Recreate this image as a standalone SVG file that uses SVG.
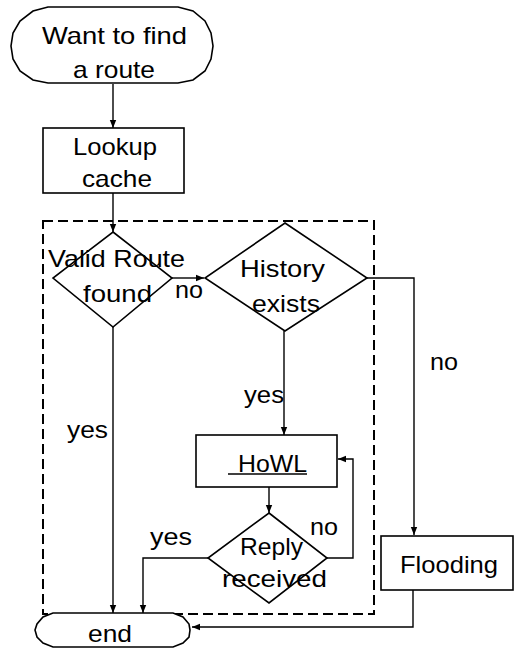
<svg xmlns="http://www.w3.org/2000/svg" width="514" height="652" viewBox="0 0 514 652">
  <defs>
    <marker id="arrow" viewBox="0 0 8 8" refX="8" refY="4" markerWidth="8" markerHeight="8" markerUnits="userSpaceOnUse" orient="auto">
      <path d="M0,0.8 L8,4 L0,7.2 Z" fill="#000"/>
    </marker>
    <style>
      .shape { fill: #fff; stroke: #000; stroke-width: 1.6; }
      .line { fill: none; stroke: #000; stroke-width: 1.4; }
      .arrow { marker-end: url(#arrow); }
      .frame { fill: none; stroke: #000; stroke-width: 2; stroke-dasharray: 10 5; }
      text { font-family: "Liberation Sans", Arial, sans-serif; font-size: 24px; fill: #000; text-anchor: middle; }
    </style>
  </defs>
  <rect width="514" height="652" fill="#fff"/>

  <!-- connectors -->
  <g id="connectors">
    <path class="line arrow" d="M113,84 V128"/>
    <path class="line arrow" d="M113,193 V232"/>
    <path class="line arrow" d="M172,278 H204"/>
    <path class="line arrow" d="M113,327 V613"/>
    <path class="line arrow" d="M284,331 V435"/>
    <path class="line arrow" d="M269,487 V513"/>
    <path class="line arrow" d="M327,558 H353 V459 H338"/>
    <path class="line arrow" d="M208,558 H143 V613"/>
    <path class="line arrow" d="M367,278 H414 V535"/>
    <path class="line arrow" d="M413,590 V627 H192"/>
    <text x="189" y="298" textLength="28" lengthAdjust="spacingAndGlyphs">no</text>
    <text x="264" y="403" textLength="40" lengthAdjust="spacingAndGlyphs">yes</text>
    <text x="87.5" y="438" textLength="41" lengthAdjust="spacingAndGlyphs">yes</text>
    <text x="171" y="545" textLength="42" lengthAdjust="spacingAndGlyphs">yes</text>
    <text x="324" y="535" textLength="28" lengthAdjust="spacingAndGlyphs">no</text>
    <text x="444" y="370" textLength="28" lengthAdjust="spacingAndGlyphs">no</text>
  </g>

  <!-- dashed frame around the route search -->
  <rect id="search-frame" class="frame" x="43" y="221" width="331" height="393"/>

  <g id="start">
    <path class="shape" d="M48,7 H178 L193,11 L205,21 L211,33 L213,46 L211,59 L205,71 L193,80 L178,83 H48 L33,80 L20,71 L13,59 L11,46 L13,33 L20,21 L33,11 Z"/>
    <text x="114.5" y="44" textLength="145" lengthAdjust="spacingAndGlyphs">Want to find</text>
    <text x="114" y="78" textLength="82" lengthAdjust="spacingAndGlyphs">a route</text>
  </g>

  <g id="lookup">
    <rect class="shape" x="43" y="128" width="141" height="65"/>
    <text x="115" y="155" textLength="84" lengthAdjust="spacingAndGlyphs">Lookup</text>
    <text x="117" y="187" textLength="70" lengthAdjust="spacingAndGlyphs">cache</text>
  </g>

  <g id="valid-route">
    <path class="shape" d="M113,232 L172,278 L113,327 L53,278 Z"/>
    <text x="116.5" y="267" textLength="137" lengthAdjust="spacingAndGlyphs">Valid Route</text>
    <text x="117.5" y="302" textLength="69" lengthAdjust="spacingAndGlyphs">found</text>
  </g>

  <g id="history">
    <path class="shape" d="M285,223 L367,278 L285,331 L205,278 Z"/>
    <text x="282.5" y="277" textLength="85" lengthAdjust="spacingAndGlyphs">History</text>
    <text x="286" y="312" textLength="68" lengthAdjust="spacingAndGlyphs">exists</text>
  </g>

  <g id="howl">
    <rect class="shape" x="196" y="435" width="141" height="52"/>
    <text x="272.5" y="472" textLength="69" lengthAdjust="spacingAndGlyphs">HoWL</text>
    <line x1="228" y1="474" x2="307" y2="474" stroke="#000" stroke-width="1.6"/>
  </g>

  <g id="reply">
    <path class="shape" d="M269,513 L327,558 L269,603 L208,558 Z"/>
    <text x="271.5" y="555" textLength="63" lengthAdjust="spacingAndGlyphs">Reply</text>
    <text x="274.5" y="587" textLength="105" lengthAdjust="spacingAndGlyphs">received</text>
  </g>

  <g id="flooding">
    <rect class="shape" x="381" y="536" width="132" height="54"/>
    <text x="449" y="573" textLength="98" lengthAdjust="spacingAndGlyphs">Flooding</text>
  </g>

  <g id="end">
    <path class="shape" d="M53,613 H173 L183,617 L189,624 L190,630 L189,637 L183,643 L173,647 H53 L43,643 L37,637 L35,630 L37,624 L43,617 Z"/>
    <text x="110" y="642" textLength="44" lengthAdjust="spacingAndGlyphs">end</text>
  </g>
</svg>
